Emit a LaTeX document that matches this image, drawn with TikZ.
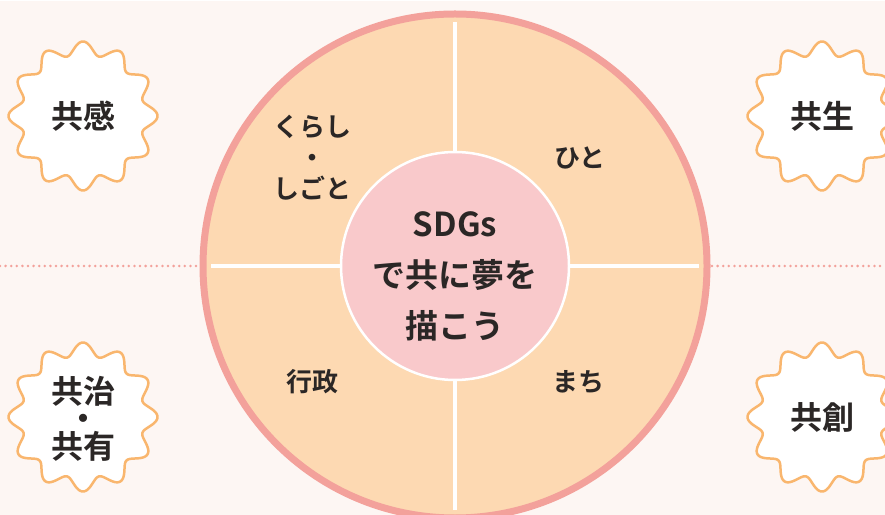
\documentclass[tikz,border=0pt]{standalone}
\usepackage{fontspec}
\setmainfont{Noto Sans CJK JP Bold}
\definecolor{ringred}{HTML}{F3A19B}
\definecolor{ringfill}{HTML}{FDD9B2}
\definecolor{corepink}{HTML}{F9C9CB}
\definecolor{staror}{HTML}{F9B66E}
\definecolor{bgpink}{HTML}{FBE8E2}
\definecolor{bglight}{HTML}{FDF6F3}
\definecolor{inkgray}{HTML}{2B2726}
\begin{document}
\begin{tikzpicture}[x=1pt, y=1pt,
    ringlabel/.style={align=center, text=inkgray, font=\fontsize{26}{31}\selectfont},
    starlabel/.style={align=center, text=inkgray, font=\fontsize{32}{27}\selectfont},
    starline/.style={draw=staror, line width=2.5pt, fill=white, line join=round}]
      \clip (0,0) rectangle (885,514);
      \fill[white] (0,0) rectangle (885,514);
      \shade[left color=bglight, middle color=bgpink, right color=bglight]
        (0,0) rectangle (885,512);                                 % background
      %
      \draw[ringred, line width=2.8pt, line cap=round,
        dash pattern=on 0pt off 5.6pt] (0,248) -- (199,248);       % dotted axis
      \draw[ringred, line width=2.8pt, line cap=round,
        dash pattern=on 0pt off 5.6pt] (712,248) -- (885,248);
      %
      \draw[ringred, line width=7pt, fill=ringfill] (455,248) circle (252); % outer ring
      %
      \draw[white, line width=3.5pt] (455,492) -- (455,362);       % dividers
      \draw[white, line width=3.5pt] (455,4) -- (455,134);
      \draw[white, line width=3.5pt] (211,248) -- (341,248);
      \draw[white, line width=3.5pt] (569,248) -- (699,248);
      %
      \node[circle, draw=white, line width=2.5pt, fill=corepink,
        minimum size=228pt, inner sep=0pt] (core) at (455,248) {}; % core
      \node[align=center, text=inkgray, font=\fontsize{33}{51}\selectfont]
        (coretext) at (455,238) {SDGs\\で共に夢を\\描こう};
      %
      \node[ringlabel] (kurashi) at (312,356) {くらし\\・\\しごと}; % ring labels
      \node[ringlabel] (hito)    at (580,356) {ひと};
      \node[ringlabel] (gyosei)  at (312,132) {行政};
      \node[ringlabel] (machi)   at (578,132) {まち};
      %
      \draw[starline] plot[domain=0:360, samples=361, smooth, variable=\t]
        ({83+(68+6.5*cos(12*\t))*cos(\t)}, {398+(68+6.5*cos(12*\t))*sin(\t)}) -- cycle; % top left star
      \draw[starline] plot[domain=0:360, samples=361, smooth, variable=\t]
        ({822+(68+6.5*cos(12*\t))*cos(\t)}, {398+(68+6.5*cos(12*\t))*sin(\t)}) -- cycle; % top right star
      \draw[starline] plot[domain=0:360, samples=361, smooth, variable=\t]
        ({83+(68+6.5*cos(12*\t))*cos(\t)}, {97+(68+6.5*cos(12*\t))*sin(\t)}) -- cycle; % bottom left star
      \draw[starline] plot[domain=0:360, samples=361, smooth, variable=\t]
        ({822+(68+6.5*cos(12*\t))*cos(\t)}, {97+(68+6.5*cos(12*\t))*sin(\t)}) -- cycle; % bottom right star
      %
      \node[starlabel] (kyokan)   at (83,398)  {共感};           % star labels
      \node[starlabel] (kyosei)   at (822,398) {共生};
      \node[starlabel] (kyoji)    at (83,95)   {共治\\・\\共有};
      \node[starlabel] (kyoso)    at (822,97)  {共創};
      %
    \end{tikzpicture}
\end{document}
